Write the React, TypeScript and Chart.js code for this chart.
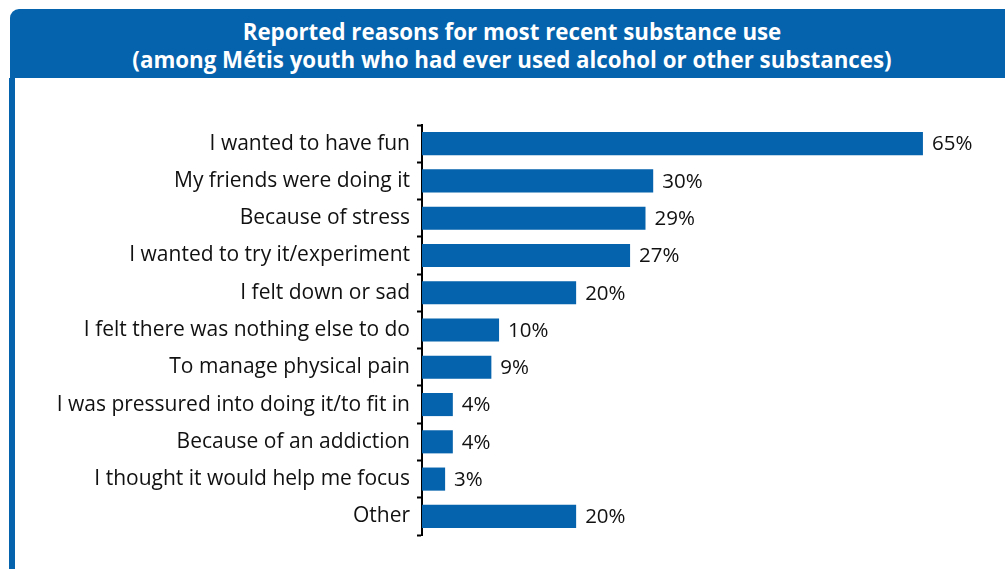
import React, { useEffect, useRef } from "react";
import { Chart, registerables } from "chart.js";

Chart.register(...registerables);

const titleLines = [
  "Reported reasons for most recent substance use",
  "(among Métis youth who had ever used alcohol or other substances)",
];

const categories = [
  "I wanted to have fun",
  "My friends were doing it",
  "Because of stress",
  "I wanted to try it/experiment",
  "I felt down or sad",
  "I felt there was nothing else to do",
  "To manage physical pain",
  "I was pressured into doing it/to fit in",
  "Because of an addiction",
  "I thought it would help me focus",
  "Other",
];

const values = [65, 30, 29, 27, 20, 10, 9, 4, 4, 3, 20];

const valueLabels = ["65%", "30%", "29%", "27%", "20%", "10%", "9%", "4%", "4%", "3%", "20%"];

const BLUE = "#0562ac";
const FONT = "'Open Sans', sans-serif";

const valueLabelPlugin = {
  id: "valueLabels",
  afterDatasetsDraw(chart: any) {
    const ctx = chart.ctx;
    const meta = chart.getDatasetMeta(0);
    ctx.save();
    ctx.font = `20.5px ${FONT}`;
    ctx.fillStyle = "#111";
    ctx.textAlign = "left";
    ctx.textBaseline = "middle";
    meta.data.forEach((bar: any, i: number) => {
      ctx.fillText(valueLabels[i], bar.x + 9, bar.y + 1);
    });
    ctx.restore();
  },
};

export default function App() {
  const canvasRef = useRef<HTMLCanvasElement | null>(null);

  useEffect(() => {
    const canvas = canvasRef.current;
    if (!canvas) return;
    const chart = new Chart(canvas, {
      type: "bar",
      data: {
        labels: categories,
        datasets: [
          {
            data: values,
            backgroundColor: BLUE,
            borderWidth: 0,
            barPercentage: 0.62,
            categoryPercentage: 1,
          },
        ],
      },
      options: {
        indexAxis: "y",
        animation: false,
        responsive: false,
        devicePixelRatio: 1,
        layout: { padding: { top: 47, bottom: 34, right: 5, left: 0 } },
        plugins: {
          legend: { display: false },
          tooltip: { enabled: false },
          title: { display: false },
        },
        scales: {
          x: { display: false, min: 0, max: 75 },
          y: {
            type: "category",
            grid: {
              display: true,
              drawOnChartArea: false,
              drawTicks: true,
              tickLength: 5,
              tickWidth: 2,
              tickColor: "#000",
              offset: true,
            },
            border: { display: true, color: "#000", width: 2 },
            ticks: {
              color: "#111",
              font: { family: FONT, size: 21 },
              padding: 7,
            },
            afterFit: (s: any) => {
              s.width = 407;
            },
          },
        },
      },
      plugins: [valueLabelPlugin],
    });
    return () => chart.destroy();
  }, []);

  return (
    <div
      style={{
        position: "absolute",
        left: 0,
        top: 0,
        width: 1005,
        height: 569,
        overflow: "hidden",
        background: "#fff",
      }}
    >
      <div
        style={{
          position: "absolute",
          left: 10,
          top: 9,
          width: 1004,
          height: 69,
          background: BLUE,
          borderTopLeftRadius: 9,
        }}
      >
        {titleLines.map((t, i) => (
          <div
            key={i}
            style={{
              position: "absolute",
              left: 0,
              width: "100%",
              top: 9 + i * 28,
              textAlign: "center",
              color: "#fff",
              fontFamily: FONT,
              fontWeight: 700,
              fontSize: 22.3,
              lineHeight: "28px",
              whiteSpace: "nowrap",
            }}
          >
            {t}
          </div>
        ))}
      </div>
      <div
        style={{
          position: "absolute",
          left: 9,
          top: 78,
          width: 6,
          height: 491,
          background: BLUE,
        }}
      />
      <canvas
        ref={canvasRef}
        width={990}
        height={491}
        style={{ position: "absolute", left: 15, top: 78, width: 990, height: 491 }}
      />
    </div>
  );
}
